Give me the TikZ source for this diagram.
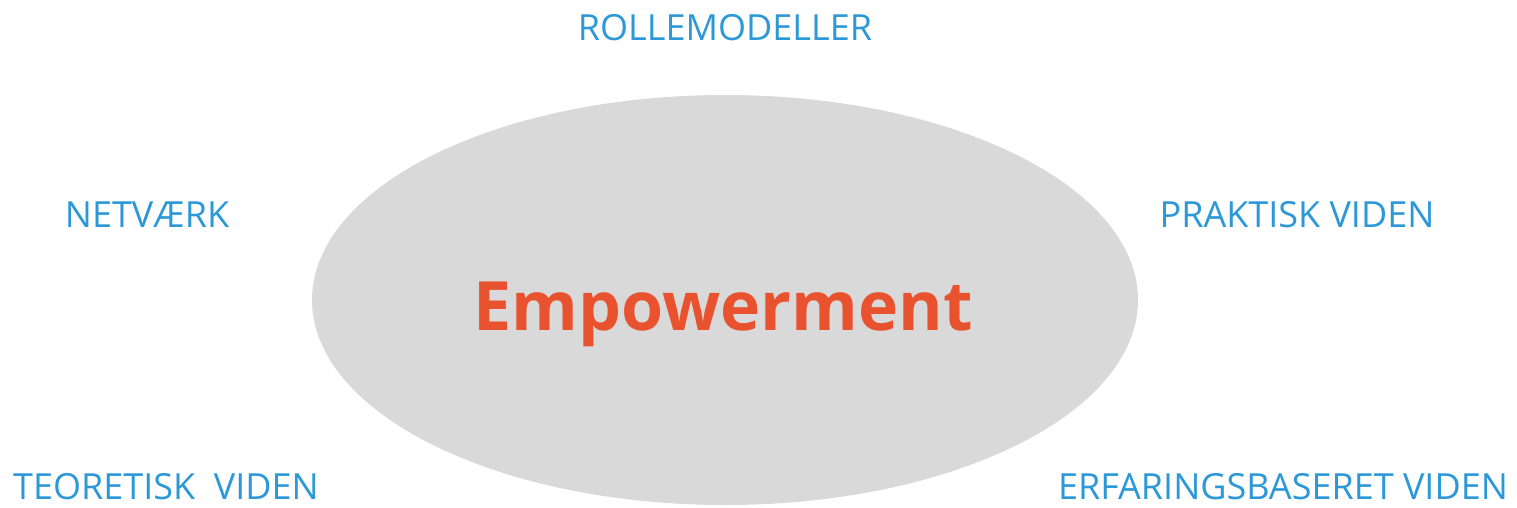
\documentclass[tikz,border=0pt]{standalone}
\usepackage{fontspec}
\setmainfont{Open Sans}
\usetikzlibrary{shapes.geometric}
\definecolor{lblblue}{RGB}{45,152,216}
\definecolor{empred}{RGB}{233,82,46}
\definecolor{ellgray}{RGB}{217,217,217}
\begin{document}
\begin{tikzpicture}[x=1pt,y=-1pt,
  lbl/.style={text=lblblue,font=\fontsize{36}{40}\selectfont,inner sep=0pt,anchor=base,text depth=0pt},
  center/.style={text=empred,font=\bfseries\fontsize{68}{76}\selectfont,inner sep=0pt,anchor=base}]
\useasboundingbox (0,0) rectangle (1517,507);
\node[ellipse,fill=ellgray,minimum width=826pt,minimum height=410pt,inner sep=0pt] (ell) at (725,300) {};
\node[center] (emp) at (723,330) {Empowerment};
\node[lbl] (rolle) at (725,40) {ROLLEMODELLER};
\node[lbl] (net) at (147,227) {NETVÆRK};
\node[lbl] (prak) at (1297,227) {PRAKTISK VIDEN};
\node[lbl] (teo) at (166,499) {TEORETISK\ \ VIDEN};
\node[lbl] (erf) at (1283,499) {ERFARINGSBASERET VIDEN};
\end{tikzpicture}
\end{document}
